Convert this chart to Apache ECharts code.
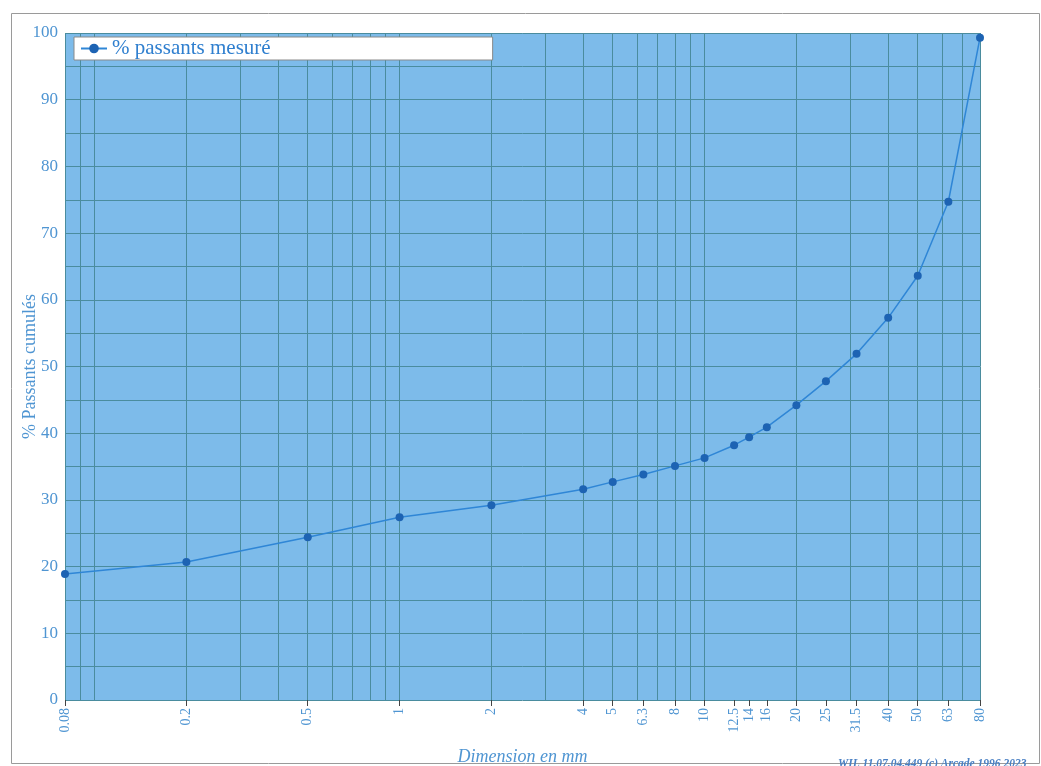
<!DOCTYPE html>
<html>
<head>
<meta charset="utf-8">
<script src="https://cdn.jsdelivr.net/npm/echarts@6/dist/echarts.min.js"></script>
<style>
html,body{margin:0;padding:0;background:#fff;}
#chart{width:1041px;height:766px;}
</style>
</head>
<body>
<div id="chart"></div>
<script>
// Sieve sizes (mm) and measured cumulative passing (%)
const sizes = [0.08, 0.2, 0.5, 1, 2, 4, 5, 6.3, 8, 10, 12.5, 14, 16, 20, 25, 31.5, 40, 50, 63, 80];
const passing = [18.9, 20.7, 24.4, 27.4, 29.2, 31.6, 32.7, 33.8, 35.1, 36.3, 38.2, 39.4, 40.9, 44.2, 47.8, 51.9, 57.3, 63.6, 74.7, 99.3];
const tickLabels = ['0.08','0.2','0.5','1','2','4','5','6.3','8','10','12.5','14','16','20','25','31.5','40','50','63','80'];
// Vertical log grid lines (mm)
const gridSizes = [0.08, 0.09, 0.1, 0.2, 0.3, 0.4, 0.5, 0.6, 0.7, 0.8, 0.9, 1, 2, 3, 4, 5, 6, 7, 8, 9, 10, 20, 30, 40, 50, 60, 70, 80];
const yLabels = [0, 10, 20, 30, 40, 50, 60, 70, 80, 90, 100];

const lg = v => Math.log10(v);
const xMin = lg(sizes[0]);
const xMax = lg(sizes[sizes.length - 1]);
const labelLog = sizes.map(lg);

const serif = '"Liberation Serif", "DejaVu Serif", serif';
const labelColor = '#4f95d2';
const gridColor = '#4a8c9e';

const chart = echarts.init(document.getElementById('chart'));
chart.setOption({
  animation: false,
  backgroundColor: '#ffffff',
  grid: {
    left: 65, right: 61, top: 33, bottom: 66,
    outerBoundsMode: 'none', containLabel: false,
    show: true, backgroundColor: '#7dbbea', borderWidth: 0
  },
  legend: {
    left: 74, top: 37,
    backgroundColor: '#ffffff',
    borderColor: '#8a8a8a', borderWidth: 1,
    padding: [1, 222, 1, 6],
    itemWidth: 26, itemHeight: 12, itemGap: 6,
    textStyle: { fontFamily: serif, fontSize: 21, color: '#2f7fcf' },
    data: ['% passants mesuré']
  },
  xAxis: [
    {
      type: 'value', min: xMin, max: xMax, position: 'bottom',
      axisLine: { show: false },
      axisTick: { show: false, customValues: gridSizes.map(lg) },
      axisLabel: { show: false },
      splitLine: { show: true, lineStyle: { color: gridColor, width: 1 } }
    },
    {
      type: 'value', min: xMin, max: xMax, position: 'bottom',
      name: 'Dimension en mm', nameLocation: 'middle', nameGap: 48,
      nameTextStyle: { fontFamily: serif, fontStyle: 'italic', fontSize: 18, color: '#4f95d2' },
      axisLine: { show: false },
      axisTick: { show: true, inside: false, length: 6, customValues: labelLog, lineStyle: { color: '#444', width: 1 } },
      axisLabel: {
        customValues: labelLog, rotate: 90, margin: 8,
        fontFamily: serif, fontSize: 14, color: labelColor,
        formatter: v => {
          for (let i = 0; i < labelLog.length; i++) {
            if (Math.abs(labelLog[i] - v) < 1e-6) return tickLabels[i];
          }
          return '';
        }
      },
      splitLine: { show: false }
    }
  ],
  yAxis: {
    type: 'value', min: 0, max: 100, interval: 5,
    name: '% Passants cumulés', nameLocation: 'middle', nameGap: 26,
    nameMoveOverlap: false,
    nameTextStyle: { fontFamily: serif, fontSize: 18, color: '#4f95d2' },
    axisLine: { show: false },
    axisTick: { show: false },
    axisLabel: {
      fontFamily: serif, fontSize: 17, color: labelColor, margin: 7,
      formatter: v => (yLabels.indexOf(v) >= 0 ? String(v) : '')
    },
    splitLine: { show: true, lineStyle: { color: gridColor, width: 1 } }
  },
  series: [{
    name: '% passants mesuré',
    type: 'line',
    xAxisIndex: 1,
    data: sizes.map((s, i) => [lg(s), passing[i]]),
    symbol: 'circle', symbolSize: 8,
    lineStyle: { color: '#2f86d6', width: 1.5 },
    itemStyle: { color: '#1d63b3' },
    clip: false
  }],
  graphic: [
    {
      type: 'rect', left: 9, top: 11, silent: true,
      shape: { width: 1028, height: 750 },
      style: { fill: 'none', stroke: '#9a9a9a', lineWidth: 1 }
    },
    {
      type: 'text', left: 838, top: 758, silent: true,
      style: {
        text: 'WIL 11.07.04.449 (c) Arcade 1996 2023',
        font: 'italic bold 11.5px "Liberation Serif"', fill: '#4a80c4'
      }
    }
  ]
});
</script>
</body>
</html>
